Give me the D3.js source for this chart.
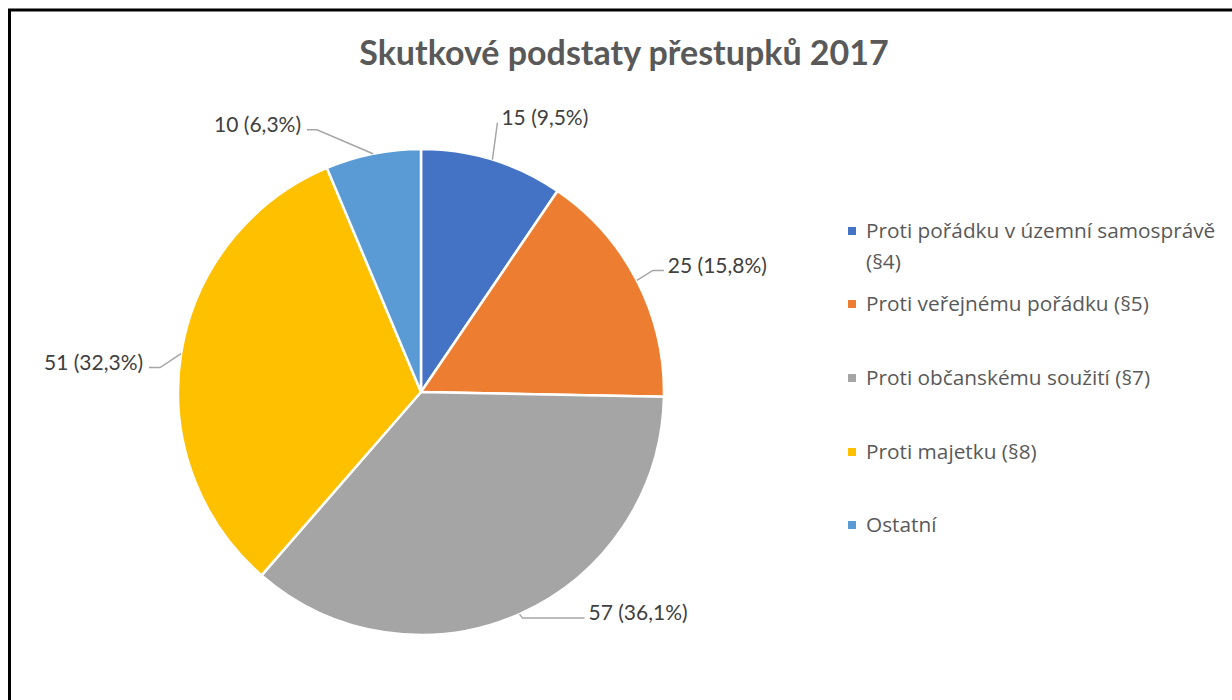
<!DOCTYPE html>
<head>
	<meta charset="utf-8">
	<script src="https://d3js.org/d3.v7.min.js"></script>
	<style>
		body { margin: 0; background: #fff; }
		text { font-family: Lato, "Noto Sans", sans-serif; }
		.legend text { font-family: "Open Sans", "Noto Sans", sans-serif; }
	</style>
</head>
<body>
	<svg id="chart" width="1232" height="700"></svg>
	<script>

	// Data
	var categories = [
		"Proti pořádku v územní samosprávě (§4)",
		"Proti veřejnému pořádku (§5)",
		"Proti občanskému soužití (§7)",
		"Proti majetku (§8)",
		"Ostatní"
	];
	var values = [15, 25, 57, 51, 10];
	var percentLabels = ["9,5%", "15,8%", "36,1%", "32,3%", "6,3%"];
	var colors = ["#4472C4", "#ED7D31", "#A5A5A5", "#FFC000", "#5B9BD5"];

	// label leader layout: elbow offset from arc point, then horizontal run
	var leaderNudge = [[5, -37], [16, -10], [3, 4], [-21, 14], [-56, -24]];
	var leaderRun = [0, 11, 62, -11, -10];

	var svg = d3.select("svg"),
	  width = +svg.attr("width"),
	  height = +svg.attr("height");

	// frame
	svg.append("rect")
		.attr("x", 9.5).attr("y", 10)
		.attr("width", width + 20).attr("height", height + 20)
		.attr("fill", "none")
		.attr("stroke", "#000")
		.attr("stroke-width", 3);

	svg.append("text")
		.attr("x", 624).attr("y", 65)
		.attr("text-anchor", "middle")
		.attr("font-size", 34)
		.attr("font-weight", "bold")
		.attr("fill", "#595959")
		.text("Skutkové podstaty přestupků 2017");

	var cx = 421, cy = 392, R = 243;
	var g = svg.append("g").attr("transform", "translate(" + cx + "," + cy + ")");

	var pie = d3.pie().sort(null)(values);
	var arc = d3.arc().innerRadius(0).outerRadius(R);

	g.selectAll("path.slice")
		.data(pie)
		.enter()
		.append("path")
		.attr("class", "slice")
		.attr("d", arc)
		.attr("fill", function(d, i) { return colors[i]; })
		.attr("stroke", "#fff")
		.attr("stroke-width", 2.5)
		.attr("stroke-linejoin", "round");

	// data labels with leader lines
	pie.forEach(function(d, i) {
		var a = (d.startAngle + d.endAngle) / 2;
		var p0 = [R * Math.sin(a), -R * Math.cos(a)];
		var p1 = [p0[0] + leaderNudge[i][0], p0[1] + leaderNudge[i][1]];
		var p2 = [p1[0] + leaderRun[i], p1[1]];
		g.append("path")
			.attr("d", d3.line()([p0, p1, p2]))
			.attr("fill", "none")
			.attr("stroke", "#A6A6A6")
			.attr("stroke-width", 1.5);
		var right = Math.sin(a) >= 0;
		g.append("text")
			.attr("x", p2[0] + (right ? 4 : -6))
			.attr("y", p2[1] - 5)
			.attr("dy", "0.35em")
			.attr("text-anchor", right ? "start" : "end")
			.attr("font-size", 21)
			.attr("fill", "#404040")
			.text(values[i] + " (" + percentLabels[i] + ")");
	});

	// legend
	var legendY = [231, 304, 378, 452, 525];
	var legend = svg.append("g").attr("class", "legend");
	categories.forEach(function(c, i) {
		var item = legend.append("g").attr("transform", "translate(848," + legendY[i] + ")");
		item.append("rect")
			.attr("x", 0).attr("y", -4)
			.attr("width", 8).attr("height", 8)
			.attr("fill", colors[i]);
		var t = item.append("text")
			.attr("x", 18)
			.attr("dy", "0.35em")
			.attr("font-size", 20.8)
			.attr("fill", "#595959");
		if (i === 0) {
			t.append("tspan").attr("x", 18).text("Proti pořádku v územní samosprávě");
			t.append("tspan").attr("x", 18).attr("dy", 31).text("(§4)");
		} else {
			t.text(c);
		}
	});

	</script>
</body>
</html>
